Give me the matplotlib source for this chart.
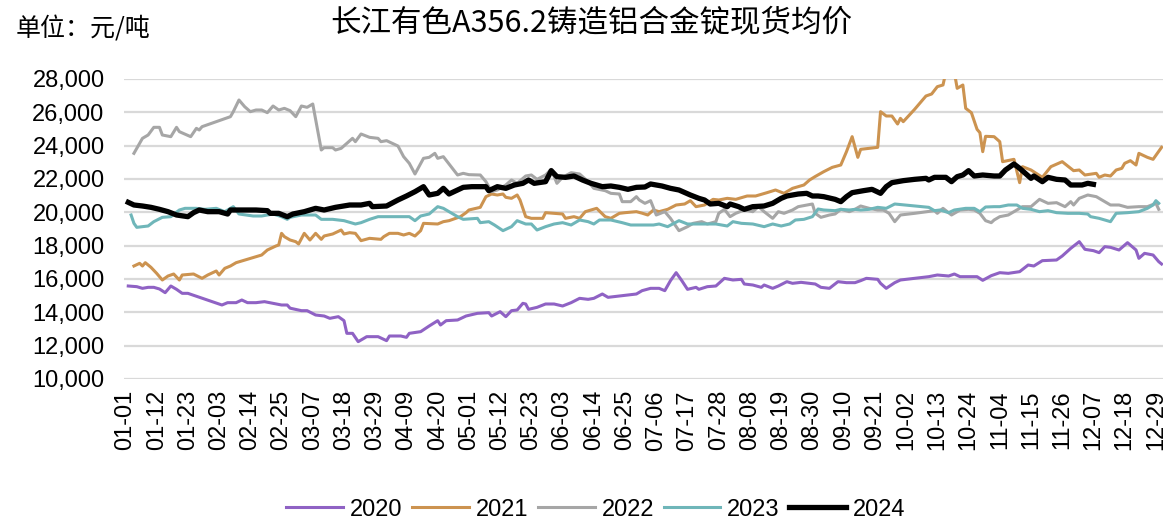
import datetime as dt
import matplotlib.pyplot as plt
from matplotlib.ticker import StrMethodFormatter

plt.rcParams['font.family'] = ['Liberation Sans', 'Noto Sans CJK SC', 'DejaVu Sans']

# 日期轴标签（按闰年排列，间隔 11 天）
tick_labels = ['01-01', '01-12', '01-23', '02-03', '02-14', '02-25', '03-07', '03-18',
               '03-29', '04-09', '04-20', '05-01', '05-12', '05-23', '06-03', '06-14',
               '06-25', '07-06', '07-17', '07-28', '08-08', '08-19', '08-30', '09-10',
               '09-21', '10-02', '10-13', '10-24', '11-04', '11-15', '11-26', '12-07',
               '12-18', '12-29']

# 各年份：距 1 月 1 日的天数 / 均价（元/吨）
d2020 = [1, 4, 6, 8, 10, 12, 14, 16, 18, 20, 22, 34, 36, 39, 41, 43, 46, 49, 52, 55, 57, 58,
         62, 64, 67, 70, 72, 75, 77, 78, 80, 82, 85, 89, 92, 93, 97, 99, 100, 104, 107, 110,
         111, 113, 117, 120, 124, 128, 129, 132, 134, 136, 138, 140, 141, 142, 145, 148, 151,
         154, 157, 160, 163, 165, 168, 170, 174, 177, 180, 182, 185, 188, 190, 192, 194, 196,
         198, 201, 202, 205, 208, 211, 214, 217, 218, 221, 224, 225, 228, 230, 233, 235, 238,
         241, 243, 245, 248, 251, 254, 257, 259, 261, 265, 266, 268, 271, 273, 278, 283, 286,
         290, 292, 294, 297, 300, 302, 305, 308, 311, 315, 318, 320, 323, 328, 330, 333, 336,
         338, 341, 343, 345, 347, 350, 353, 356, 357, 359, 362, 364, 365]
v2020 = [15580, 15540, 15440, 15500, 15500, 15400, 15180, 15580, 15380, 15140, 15140, 14440,
         14580, 14580, 14740, 14580, 14580, 14640, 14540, 14440, 14440, 14250, 14100, 14100,
         13840, 13780, 13640, 13740, 13500, 12740, 12740, 12240, 12540, 12540, 12300, 12580,
         12580, 12500, 12740, 12840, 13180, 13500, 13240, 13500, 13540, 13780, 13940, 13980,
         13780, 14040, 13740, 14100, 14140, 14540, 14500, 14180, 14300, 14500, 14500, 14380,
         14580, 14840, 14780, 14840, 15100, 14900, 14980, 15040, 15100, 15300, 15440, 15440,
         15300, 15900, 16380, 15900, 15380, 15500, 15380, 15540, 15580, 16040, 15940, 15980,
         15700, 15640, 15500, 15640, 15440, 15580, 15840, 15740, 15800, 15740, 15700, 15500,
         15440, 15840, 15780, 15780, 15900, 16040, 15980, 15740, 15440, 15780, 15940, 16040,
         16140, 16240, 16180, 16300, 16140, 16140, 16140, 15920, 16200, 16380, 16340, 16440,
         16840, 16780, 17100, 17140, 17380, 17840, 18240, 17780, 17700, 17580, 17940, 17900,
         17740, 18180, 17740, 17240, 17540, 17440, 17040, 16900]

d2021 = [3, 5, 6, 7, 9, 11, 13, 15, 17, 19, 20, 24, 27, 29, 32, 33, 35, 37, 39, 48, 50, 53, 54,
         55, 56, 58, 60, 61, 63, 65, 67, 69, 70, 73, 76, 77, 79, 81, 83, 86, 90, 91, 93, 96, 98,
         100, 102, 104, 105, 110, 112, 114, 118, 120, 121, 125, 127, 129, 131, 133, 134, 136,
         138, 139, 141, 143, 147, 148, 151, 154, 155, 158, 160, 162, 166, 169, 171, 174, 176,
         180, 182, 184, 186, 188, 191, 194, 197, 199, 201, 204, 207, 209, 212, 215, 219, 222,
         226, 229, 232, 235, 239, 241, 243, 246, 249, 252, 254, 256, 258, 259, 265, 266, 268,
         270, 272, 273, 274, 278, 282, 284, 286, 288, 289, 292, 293, 295, 296, 298, 300, 301,
         302, 303, 306, 308, 309, 312, 313, 315, 316, 319, 323, 326, 330, 334, 336, 338, 342,
         343, 345, 347, 349, 351, 352, 354, 356, 357, 360, 362, 365]
v2021 = [16780, 16940, 16780, 16980, 16700, 16340, 15940, 16180, 16300, 15940, 16240, 16300,
         16040, 16240, 16480, 16240, 16640, 16780, 16980, 17440, 17740, 17980, 18040, 18740,
         18540, 18340, 18240, 18100, 18740, 18340, 18740, 18380, 18580, 18700, 18940, 18700,
         18780, 18740, 18300, 18440, 18380, 18540, 18740, 18740, 18640, 18740, 18580, 18900,
         19340, 19300, 19440, 19500, 19740, 19980, 20140, 20300, 20940, 21100, 21040, 21100,
         20900, 20840, 21040, 20740, 19740, 19640, 19640, 19980, 19940, 19900, 19640, 19740,
         19640, 20040, 20240, 19740, 19640, 19940, 19980, 20040, 19950, 19840, 20140, 20040,
         20180, 20440, 20500, 20700, 20340, 20440, 20780, 20740, 20840, 20780, 20980, 20980,
         21180, 21340, 21140, 21440, 21640, 21940, 22150, 22440, 22700, 22840, 23640, 24540,
         23300, 23780, 23900, 26040, 25780, 25780, 25300, 25640, 25440, 26180, 26980, 27100,
         27540, 27640, 28400, 28400, 27440, 27640, 26240, 25980, 24980, 24780, 23640, 24560,
         24540, 24240, 23040, 23140, 23180, 21780, 22740, 22540, 22100, 22740, 23040, 22500,
         22540, 22240, 22340, 22100, 22240, 22180, 22540, 22640, 22940, 23100, 22840, 23540,
         23300, 23180, 23900]

d2022 = [3, 4, 6, 8, 10, 12, 13, 16, 18, 19, 23, 25, 26, 27, 37, 38, 40, 42, 44, 46, 48, 50,
         52, 54, 56, 58, 60, 62, 64, 66, 69, 70, 73, 74, 76, 80, 81, 83, 86, 89, 90, 92, 94, 96,
         98, 100, 102, 105, 107, 109, 110, 112, 117, 119, 121, 125, 127, 129, 131, 134, 136,
         138, 141, 143, 145, 148, 150, 152, 154, 157, 160, 163, 165, 169, 171, 174, 175, 178,
         180, 181, 183, 185, 187, 190, 192, 194, 195, 198, 200, 203, 205, 208, 209, 211, 213,
         215, 218, 221, 223, 225, 228, 230, 232, 235, 237, 240, 242, 243, 245, 248, 250, 252,
         255, 257, 259, 262, 265, 267, 269, 271, 273, 278, 285, 286, 288, 291, 294, 297, 299,
         301, 303, 305, 306, 308, 311, 314, 316, 319, 322, 325, 328, 331, 333, 334, 336, 339,
         342, 345, 347, 350, 353, 357, 360, 363, 364]
v2022 = [23540, 23840, 24440, 24640, 25100, 25100, 24640, 24540, 25100, 24840, 24540, 25040,
         24940, 25140, 25740, 26040, 26740, 26340, 26040, 26140, 26140, 25980, 26380, 26140,
         26240, 26100, 25740, 26380, 26300, 26500, 23740, 23880, 23880, 23740, 23840, 24440,
         24240, 24700, 24500, 24440, 24240, 24300, 24140, 23980, 23340, 22940, 22300, 23240,
         23300, 23540, 23240, 23340, 22240, 22340, 22260, 22240, 21840, 21240, 21340, 21640,
         21940, 21740, 22180, 22240, 21980, 22240, 22580, 21740, 22100, 22380, 22300, 21840,
         21440, 21300, 21140, 21100, 20640, 20640, 20940, 20740, 20540, 20700, 19840, 20040,
         19640, 19140, 18900, 19140, 19340, 19440, 19300, 19440, 19940, 20180, 19740, 19940,
         20140, 20040, 20340, 20040, 19640, 20040, 19940, 20140, 20340, 20440, 20500, 19940,
         19700, 19840, 19900, 20180, 20040, 20180, 20380, 20240, 20140, 20140, 19940, 19440,
         19840, 19940, 20100, 19940, 20240, 19840, 20140, 20180, 20140, 19940, 19500, 19380,
         19540, 19740, 19840, 20140, 20340, 20340, 20780, 20540, 20580, 20340, 20640, 20440,
         20840, 21040, 20940, 20640, 20440, 20440, 20300, 20340, 20340, 20540, 20180]

d2023 = [2, 3, 4, 6, 8, 10, 13, 16, 19, 21, 25, 28, 32, 35, 38, 40, 45, 48, 52, 55, 57, 58, 62,
         65, 67, 69, 73, 77, 81, 83, 86, 89, 93, 98, 100, 102, 104, 107, 110, 112, 114, 117,
         119, 124, 125, 128, 130, 133, 136, 138, 141, 143, 145, 148, 151, 154, 157, 160, 163,
         165, 167, 171, 175, 178, 183, 186, 188, 191, 195, 198, 202, 208, 212, 214, 217, 221,
         225, 228, 231, 234, 236, 239, 242, 244, 246, 250, 252, 255, 257, 259, 262, 265, 268,
         271, 283, 285, 287, 290, 292, 296, 299, 301, 303, 306, 308, 311, 314, 316, 319, 322,
         325, 328, 332, 336, 339, 340, 343, 347, 349, 353, 357, 360, 362, 363, 364]
v2023 = [19840, 19340, 19100, 19140, 19180, 19440, 19700, 19740, 20140, 20240, 20240, 20180,
         20240, 20040, 20340, 19900, 19780, 19780, 19900, 19740, 19580, 19700, 19840, 19840,
         19840, 19580, 19580, 19500, 19300, 19380, 19580, 19740, 19740, 19740, 19740, 19500,
         19780, 19900, 20340, 20240, 20040, 19740, 19580, 19640, 19380, 19440, 19240, 18900,
         19140, 19500, 19300, 19300, 18940, 19140, 19300, 19380, 19240, 19540, 19440, 19300,
         19540, 19540, 19380, 19240, 19240, 19240, 19300, 19140, 19500, 19300, 19300, 19300,
         19180, 19440, 19340, 19300, 19140, 19300, 19180, 19300, 19540, 19580, 19740, 20200,
         20140, 20100, 20180, 20140, 20180, 20140, 20180, 20300, 20240, 20500, 20300, 20100,
         20140, 19980, 20140, 20240, 20240, 20040, 20320, 20340, 20340, 20440, 20440, 20240,
         20180, 20040, 20100, 19980, 19940, 19940, 19900, 19740, 19640, 19440, 19940, 19980,
         20040, 20240, 20440, 20700, 20540]

d2024 = [1, 3, 6, 9, 12, 15, 18, 22, 24, 26, 29, 33, 36, 37, 41, 46, 50, 51, 54, 57, 59, 63,
         67, 70, 74, 79, 83, 86, 87, 92, 96, 99, 102, 105, 107, 110, 112, 114, 117, 119, 122,
         127, 128, 131, 134, 137, 140, 142, 144, 148, 150, 152, 155, 158, 161, 164, 168, 171,
         174, 177, 180, 183, 185, 189, 192, 195, 199, 202, 204, 206, 209, 212, 213, 216, 218,
         221, 225, 228, 231, 233, 237, 240, 242, 244, 246, 250, 252, 254, 256, 260, 263, 266,
         268, 270, 274, 278, 282, 283, 285, 289, 291, 293, 295, 297, 299, 302, 306, 308, 310,
         313, 315, 317, 319, 320, 323, 325, 328, 331, 333, 337, 339, 341]
v2024 = [20600, 20440, 20380, 20300, 20180, 20040, 19840, 19740, 19980, 20140, 20040, 20040,
         19900, 20140, 20140, 20140, 20100, 19940, 19940, 19740, 19900, 20040, 20240, 20140,
         20300, 20440, 20440, 20540, 20340, 20380, 20740, 20980, 21240, 21540, 21040, 21140,
         21440, 21100, 21340, 21500, 21540, 21540, 21300, 21540, 21440, 21640, 21740, 21940,
         21740, 21840, 22500, 22140, 22100, 22180, 21940, 21740, 21540, 21580, 21500, 21380,
         21500, 21520, 21700, 21580, 21440, 21340, 21040, 20840, 20740, 20500, 20540, 20340,
         20500, 20340, 20180, 20340, 20380, 20540, 20840, 20980, 21100, 21140, 20980, 20980,
         20940, 20780, 20640, 20940, 21180, 21300, 21380, 21140, 21540, 21780, 21900, 21980,
         22040, 21940, 22100, 22100, 21840, 22140, 22240, 22500, 22180, 22240, 22180, 22180,
         22540, 22900, 22640, 22340, 22040, 22180, 21840, 22100, 21980, 21940, 21640, 21640,
         21740, 21680]

series = [
    ('2020', d2020, v2020, '#8F62C4', 2.2),
    ('2021', d2021, v2021, '#CC9350', 2.2),
    ('2022', d2022, v2022, '#A6A6A6', 2.2),
    ('2023', d2023, v2023, '#6FB6B9', 2.2),
    ('2024', d2024, v2024, '#000000', 3.8),
]

fig = plt.figure(figsize=(11.64, 5.27), dpi=100)
ax = fig.add_axes([124 / 1164, 1 - 379 / 527, 1039 / 1164, 300 / 527])

for name, d, v, c, lw in series:
    ax.plot(d, v, color=c, lw=lw, label=name, solid_joinstyle='round')

base = dt.date(2024, 1, 1)
tick_pos = [(dt.date(2024, int(s[:2]), int(s[3:])) - base).days for s in tick_labels]

ax.set_xlim(-0.5, 365.5)
ax.set_ylim(10000, 28000)
ax.set_yticks(range(10000, 28001, 2000))
ax.yaxis.set_major_formatter(StrMethodFormatter('{x:,.0f}'))
ax.set_xticks(tick_pos)
ax.set_xticklabels(tick_labels, rotation=90)
ax.tick_params(axis='both', length=0, labelsize=17, colors='#000000')
ax.tick_params(axis='y', pad=14)
ax.tick_params(axis='x', pad=8)
ax.grid(axis='y', color='#D9D9D9', lw=1.6)
ax.set_axisbelow(True)
for sp in ax.spines.values():
    sp.set_visible(False)

fig.text(0.508, 0.957, '长江有色A356.2铸造铝合金锭现货均价', ha='center', va='center',
         fontsize=22, family=['Noto Sans CJK SC', 'DejaVu Sans'])
fig.text(0.013, 0.945, '单位：元/吨', ha='left', va='center', fontsize=18,
         family=['Noto Sans CJK SC', 'DejaVu Sans'])

fig.legend(loc='lower center', bbox_to_anchor=(0.512, -0.028), ncol=5, frameon=False,
           fontsize=17, handlelength=2.4, handletextpad=0.3, columnspacing=0.4)

fig.savefig('out.png', dpi=100)
